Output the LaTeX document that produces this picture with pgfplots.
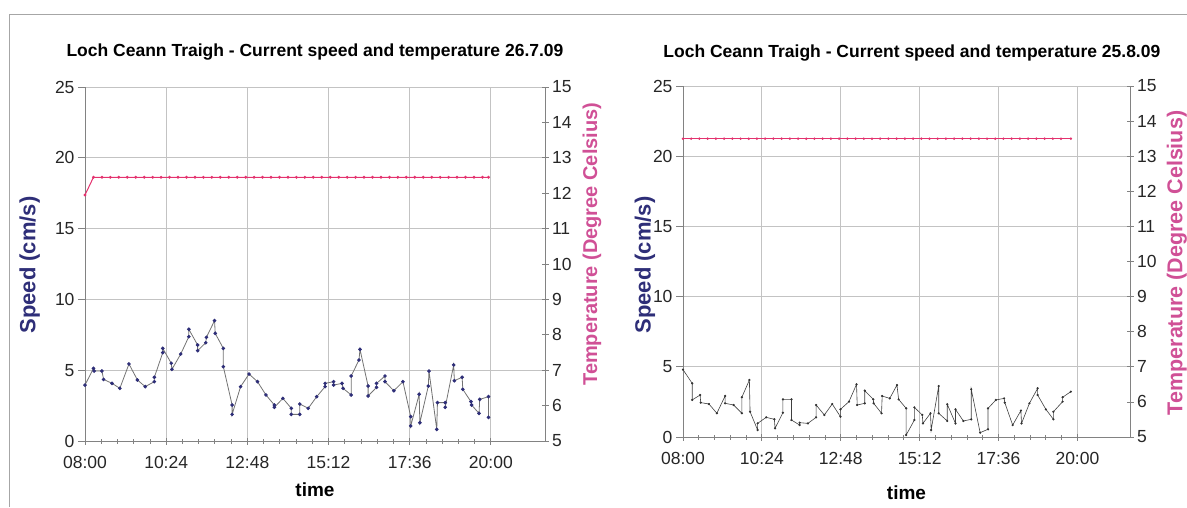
\documentclass[border=0pt]{standalone}
\usepackage{pgfplots}
\pgfplotsset{compat=1.18}
\usepackage{fontspec}
\setmainfont{Liberation Sans}
\definecolor{speedblue}{RGB}{46,46,120}
\definecolor{tempmag}{RGB}{208,80,150}
\definecolor{templine}{RGB}{228,50,110}
\definecolor{gridgray}{RGB}{195,195,195}
\definecolor{axgray}{RGB}{130,130,130}

\pgfplotstableread{
h s
8.00 3.95
8.25 5.13
8.27 4.94
8.50 4.94
8.55 4.35
8.80 4.07
9.03 3.72
9.30 5.44
9.55 4.31
9.78 3.84
10.05 4.19
10.05 4.50
10.30 6.24
10.30 6.54
10.55 5.49
10.57 5.06
10.83 6.14
11.07 7.37
11.07 7.89
11.33 6.78
11.33 6.38
11.57 6.94
11.59 7.32
11.83 8.50
11.85 7.60
12.09 6.54
12.09 5.25
12.35 2.54
12.35 1.88
12.60 3.84
12.85 4.73
13.10 4.19
13.35 3.25
13.60 2.54
13.60 2.38
13.85 3.01
14.10 2.31
14.10 1.88
14.35 1.88
14.35 2.61
14.60 2.31
14.85 3.13
15.10 3.84
15.10 4.07
15.35 4.19
15.35 3.95
15.60 4.07
15.63 3.72
15.87 3.25
15.87 4.59
16.10 5.72
16.13 6.47
16.37 3.88
16.37 3.18
16.62 3.79
16.62 4.07
16.87 4.59
16.87 4.19
17.13 3.55
17.40 4.19
17.63 1.72
17.63 1.06
17.88 3.30
17.90 1.29
18.15 3.88
18.17 4.94
18.40 0.82
18.42 2.71
18.65 2.71
18.65 2.38
18.90 5.37
18.92 4.26
19.15 4.50
19.17 3.65
19.41 2.78
19.43 2.54
19.65 1.95
19.67 2.94
19.93 3.13
19.93 1.67
}\speedA

\pgfplotstableread{
h t
8.00 11.95
8.25 12.45
8.50 12.45
8.75 12.45
9.00 12.45
9.25 12.45
9.50 12.45
9.75 12.45
10.00 12.45
10.25 12.45
10.50 12.45
10.75 12.45
11.00 12.45
11.25 12.45
11.50 12.45
11.75 12.45
12.00 12.45
12.25 12.45
12.50 12.45
12.75 12.45
13.00 12.45
13.25 12.45
13.50 12.45
13.75 12.45
14.00 12.45
14.25 12.45
14.50 12.45
14.75 12.45
15.00 12.45
15.25 12.45
15.50 12.45
15.75 12.45
16.00 12.45
16.25 12.45
16.50 12.45
16.75 12.45
17.00 12.45
17.25 12.45
17.50 12.45
17.75 12.45
18.00 12.45
18.25 12.45
18.50 12.45
18.75 12.45
19.00 12.45
19.25 12.45
19.50 12.45
19.75 12.45
19.93 12.45
}\tempA

\pgfplotstableread{
h s
8.00 4.80
8.28 3.82
8.28 2.64
8.52 2.99
8.54 2.45
8.79 2.35
9.03 1.69
9.28 2.92
9.28 2.40
9.54 2.28
9.79 1.69
9.79 2.83
10.02 4.06
10.04 1.80
10.27 0.50
10.27 0.97
10.53 1.40
10.78 1.26
10.80 0.62
11.04 1.73
11.04 2.68
11.30 2.68
11.30 1.21
11.55 0.85
11.55 1.02
11.80 0.97
12.05 1.40
12.05 2.28
12.30 1.57
12.54 2.35
12.79 1.45
12.79 1.97
13.05 2.52
13.28 3.75
13.30 2.28
13.53 2.40
13.53 3.30
13.79 2.68
13.80 2.40
14.04 1.69
14.06 2.92
14.29 2.75
14.51 3.70
14.56 2.68
14.79 2.04
14.79 0.14
15.04 1.21
15.04 2.11
15.28 1.57
15.30 0.97
15.53 1.69
15.55 0.50
15.78 3.63
15.78 1.69
16.04 1.14
16.04 2.33
16.29 0.97
16.29 1.97
16.53 1.14
16.77 1.26
16.77 3.40
17.04 0.31
17.28 0.55
17.28 2.04
17.52 2.64
17.77 2.75
17.79 2.45
18.03 0.85
18.28 1.88
18.30 0.97
18.54 2.40
18.79 3.47
18.79 2.99
19.04 1.97
19.27 1.26
19.27 1.80
19.55 2.52
19.55 2.83
19.80 3.23
}\speedB

\pgfplotstableread{
h t
8.00 13.5
8.25 13.5
8.50 13.5
8.75 13.5
9.00 13.5
9.25 13.5
9.50 13.5
9.75 13.5
10.00 13.5
10.25 13.5
10.50 13.5
10.75 13.5
11.00 13.5
11.25 13.5
11.50 13.5
11.75 13.5
12.00 13.5
12.25 13.5
12.50 13.5
12.75 13.5
13.00 13.5
13.25 13.5
13.50 13.5
13.75 13.5
14.00 13.5
14.25 13.5
14.50 13.5
14.75 13.5
15.00 13.5
15.25 13.5
15.50 13.5
15.75 13.5
16.00 13.5
16.25 13.5
16.50 13.5
16.75 13.5
17.00 13.5
17.25 13.5
17.50 13.5
17.75 13.5
18.00 13.5
18.25 13.5
18.50 13.5
18.75 13.5
19.00 13.5
19.25 13.5
19.50 13.5
19.80 13.5
}\tempB

\pgfplotsset{
  common/.style={
    scale only axis, anchor=south west,
    xmin=8, xmax=21.6,
    axis line style={axgray, line width=0.8pt, -},
    tick style={axgray, line width=0.8pt},
    tick label style={font=\fontsize{17.5}{20}\selectfont, text=black!85, /pgf/number format/assume math mode=true},
    label style={font=\bfseries\fontsize{19}{22}\selectfont},
    title style={font=\bfseries\fontsize{17.5}{20}\selectfont, anchor=base},
  },
  speedax/.style={
    common,
    ymin=0, ymax=25, ytick={0,5,...,25},
    axis x line*=bottom, axis y line*=left,
    xtick={8,10.4,12.8,15.2,17.6,20},
    xticklabels={08:00,10:24,12:48,15:12,17:36,20:00},
    minor x tick num=4,
    xtick align=center,
    ytick align=outside,
    major tick length=7pt, minor tick length=5pt,
    grid=major, major grid style={gridgray, line width=0.8pt},
    xticklabel style={yshift=-8pt},
    xlabel={time},
    ylabel={Speed (cm/s)},
    ylabel style={color=speedblue, anchor=center, font=\bfseries\fontsize{22}{24}\selectfont},
  },
  tempax/.style={
    common,
    ymin=5, ymax=15, ytick={5,6,...,15},
    axis x line=none, axis y line*=right,
    ytick align=center, major tick length=7pt,
    ylabel={Temperature (Degree Celsius)},
    ylabel style={color=tempmag, anchor=center},
  },
}

\begin{document}
\begin{tikzpicture}
\useasboundingbox (0,0) rectangle (1187pt,507pt);
\draw[black!35, line width=1pt] (9.5pt,0pt) -- (9.5pt,492.5pt) -- (1187pt,492.5pt);

% ---------------- left chart ----------------
\begin{axis}[speedax, at={(85pt,66pt)}, width=460pt, height=354pt,
  title={Loch Ceann Traigh - Current speed and temperature 26.7.09},
  title style={at={(0.5,1.068)}},
  xlabel style={at={(axis description cs:0.5,-0.158)}, anchor=base},
  ylabel style={at={(axis description cs:-0.12,0.497)}},
]
\addplot[color=black!55, line width=0.8pt, mark=*, mark size=1.4pt,
  mark options={fill=speedblue, draw=speedblue}] table[x=h, y=s] {\speedA};
\end{axis}
\begin{axis}[tempax, at={(85pt,66pt)}, width=460pt, height=354pt,
  ylabel style={at={(axis description cs:1.102,0.556)}, font=\bfseries\fontsize{20}{22}\selectfont},
]
\addplot[color=templine, line width=1pt, mark=*, mark size=0.9pt,
  mark options={fill=templine!55!black, draw=none}] table[x=h, y=t] {\tempA};
\end{axis}

% ---------------- right chart ----------------
\begin{axis}[speedax, at={(683pt,70pt)}, width=447pt, height=351pt,
  title={Loch Ceann Traigh - Current speed and temperature 25.8.09},
  title style={at={(0.512,1.065)}},
  xlabel style={at={(axis description cs:0.5,-0.179)}, anchor=base},
  ylabel style={at={(axis description cs:-0.085,0.49)}},
]
\addplot[color=black!75, line width=0.6pt, mark=*, mark size=0.8pt,
  mark options={fill=black!80, draw=black!80}] table[x=h, y=s] {\speedB};
\end{axis}
\begin{axis}[tempax, at={(683pt,70pt)}, width=447pt, height=351pt,
  ylabel style={at={(axis description cs:1.105,0.496)}, font=\bfseries\fontsize{21.5}{24}\selectfont},
]
\addplot[color=templine, line width=0.8pt, mark=*, mark size=0.8pt,
  mark options={fill=templine!55!black, draw=none}] table[x=h, y=t] {\tempB};
\end{axis}
\end{tikzpicture}
\end{document}
